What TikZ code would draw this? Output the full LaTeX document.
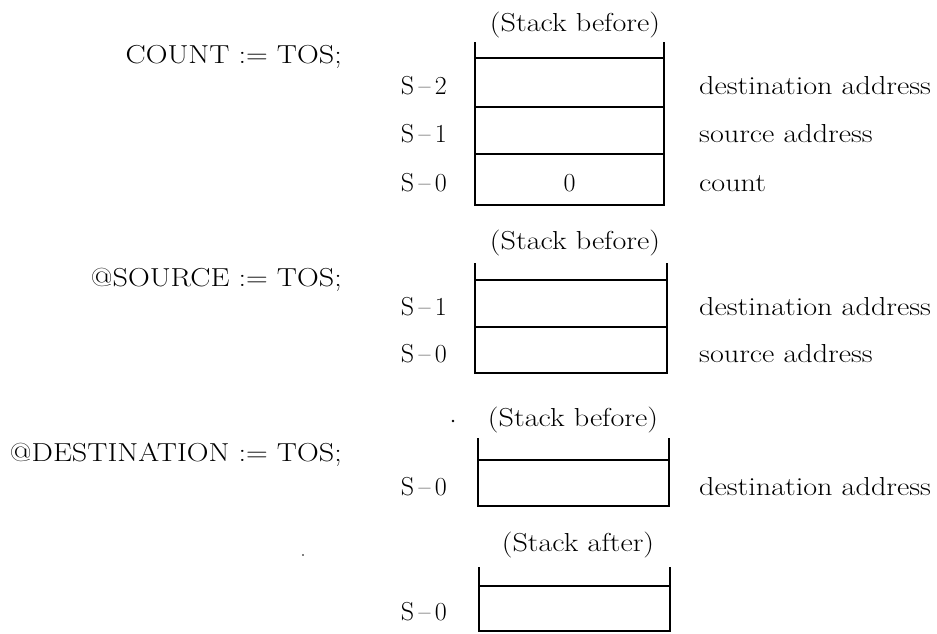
\documentclass[tikz,border=0pt]{standalone}
\usepackage{graphicx}
\newcommand{\wideT}[1]{\scalebox{1.16}[1]{#1}}
\begin{document}
\begin{tikzpicture}[x=1pt,y=-1pt,
  txt/.style={inner sep=0pt,font=\fontsize{26}{30}\selectfont},
  lbl/.style={txt,anchor=base east},
  rlbl/.style={txt,anchor=base west},
  hdr/.style={txt,anchor=base},
  stk/.style={line width=2.3pt,line cap=butt}]
\useasboundingbox (0,0) rectangle (937,633);
% left statements
\node[lbl] (c1) at (342,63) {\wideT{COUNT := TOS;}};
\node[lbl] (c2) at (342,286) {\wideT{@SOURCE := TOS;}};
\node[lbl] (c3) at (342,461) {\wideT{@DESTINATION := TOS;}};
% stack 1
\node[hdr] (h1) at (575,31) {\wideT{(Stack before)}};
\draw[stk] (475,42) -- (475,205) -- (664,205) -- (664,42);
\draw[stk] (475,58) -- (664,58);
\draw[stk] (475,107) -- (664,107);
\draw[stk] (475,154) -- (664,154);
\node[lbl] (a2) at (447,94) {S\,--\,2};
\node[lbl] (a1) at (447,142) {S\,--\,1};
\node[lbl] (a0) at (447,191) {S\,--\,0};
\node[hdr] (z0) at (569.5,191) {0};
\node[rlbl] (r12) at (699,94) {\wideT{destination address}};
\node[rlbl] (r11) at (699,142) {\wideT{source address}};
\node[rlbl] (r10) at (699,191) {\wideT{count}};
% stack 2
\node[hdr] (h2) at (575,249) {\wideT{(Stack before)}};
\draw[stk] (475,263) -- (475,373) -- (667,373) -- (667,263);
\draw[stk] (475,280) -- (667,280);
\draw[stk] (475,327) -- (667,327);
\node[lbl] (b1) at (447,315) {S\,--\,1};
\node[lbl] (b0) at (447,362) {S\,--\,0};
\node[rlbl] (r21) at (699,315) {\wideT{destination address}};
\node[rlbl] (r20) at (699,362) {\wideT{source address}};
% stack 3
\node[hdr] (h3) at (573,426) {\wideT{(Stack before)}};
\draw[stk] (478,438) -- (478,506) -- (669,506) -- (669,438);
\draw[stk] (478,460) -- (669,460);
\node[lbl] (d0) at (447,495) {S\,--\,0};
\node[rlbl] (r30) at (699,495) {\wideT{destination address}};
\fill (453,421) circle (1.3);
\fill (303,555) circle (0.8);
% stack 4
\node[hdr] (h4) at (578,551) {\wideT{(Stack after)}};
\draw[stk] (479,567) -- (479,631) -- (670,631) -- (670,567);
\draw[stk] (479,586) -- (670,586);
\node[lbl] (e0) at (447,620) {S\,--\,0};
\end{tikzpicture}
\end{document}
